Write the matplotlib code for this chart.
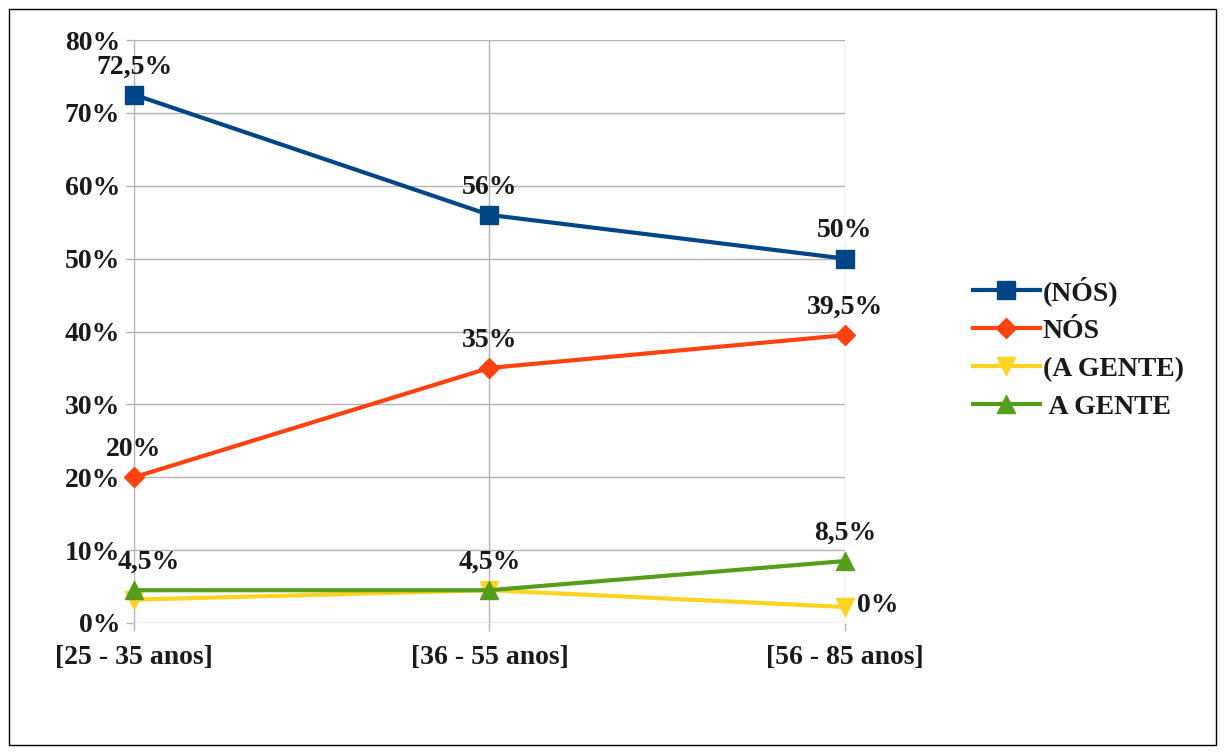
import matplotlib
matplotlib.use("Agg")
import matplotlib.pyplot as plt
from matplotlib.patches import Rectangle

categories = ["[25 - 35 anos]", "[36 - 55 anos]", "[56 - 85 anos]"]
series_names = ["(NÓS)", "NÓS", "(A GENTE)", " A GENTE"]
nos_paren = [72.5, 56, 50]
nos = [20, 35, 39.5]
gente_paren = [3.2, 4.5, 2.2]
gente = [4.5, 4.5, 8.5]
label_nos_paren = ["72,5%", "56%", "50%"]
label_nos = ["20%", "35%", "39,5%"]
label_gente_paren = ["", "", "0%"]
label_gente = ["4,5%", "4,5%", "8,5%"]
yticks = [0, 10, 20, 30, 40, 50, 60, 70, 80]
ytick_labels = ["0%", "10%", "20%", "30%", "40%", "50%", "60%", "70%", "80%"]

plt.rcParams['font.family'] = ['Liberation Serif', 'DejaVu Serif']
plt.rcParams['font.weight'] = 'bold'

fig = plt.figure(figsize=(12.25, 7.54), dpi=100)
ax = fig.add_axes([134/1225, 1-623/754, (845-134)/1225, (623-40)/754])

colors = ["#004586", "#ff420e", "#ffd320", "#579d1c"]
markers = ["s", "D", "v", "^"]
msizes = [13, 10, 13, 13]
data = [nos_paren, nos, gente_paren, gente]
x = list(range(len(categories)))

order = [2, 3, 1, 0]
lines = {}
for i in order:
    l, = ax.plot(x, data[i], color=colors[i], marker=markers[i], markersize=msizes[i],
                 linewidth=3, label=series_names[i], zorder=3 + i, clip_on=False)
    lines[i] = l

fs = 20
tc = '#1a1a1a'
def lab(vals, texts, dx0=0):
    for xi, v, t in zip(x, vals, texts):
        if t:
            dx = dx0 if xi == 0 else 0
            ax.annotate(t, (xi, v), xytext=(dx, 11), textcoords='offset points', ha='center',
                        va='bottom', fontsize=fs, fontweight='bold', color=tc, zorder=10)

lab(nos_paren, label_nos_paren)
lab(nos, label_nos)
lab(gente, label_gente, dx0=11)
for xi, v, t in zip(x, gente_paren, label_gente_paren):
    if t:
        ax.annotate(t, (xi, v), xytext=(9, 1), textcoords='offset points', ha='left', va='center',
                    fontsize=fs, fontweight='bold', color=tc, zorder=10)

ax.set_xlim(0, 2)
ax.set_ylim(0, 80)
ax.set_yticks(yticks)
ax.set_yticklabels(ytick_labels, fontsize=fs, fontweight='bold', color=tc)
ax.set_xticks(x)
ax.set_xticklabels(categories, fontsize=fs, fontweight='bold', color=tc)
ax.grid(True, color='#b3b3b3', linewidth=1)
ax.set_axisbelow(True)
for s in ax.spines.values():
    s.set_visible(False)
ax.tick_params(axis='both', length=6, color='#b3b3b3', width=1)
ax.tick_params(axis='y', pad=4)
ax.tick_params(axis='x', pad=10)
for t in ax.get_yticklabels():
    t.set_verticalalignment('center_baseline')

handles = [lines[i] for i in range(4)]
leg = fig.legend(handles, series_names, loc='upper left', bbox_to_anchor=(962/1225, 1-265/754),
                 frameon=False, prop={'weight': 'bold', 'size': fs},
                 handlelength=2.4, handletextpad=0.1, labelspacing=0.45, borderaxespad=0)
for t in leg.get_texts():
    t.set_color(tc)

fig.patches.append(Rectangle((9/1225, 9/754), 1-18/1225, 1-18/754, transform=fig.transFigure,
                             fill=False, edgecolor='#000000', linewidth=1))

fig.savefig("out.png", dpi=100, facecolor='white')
